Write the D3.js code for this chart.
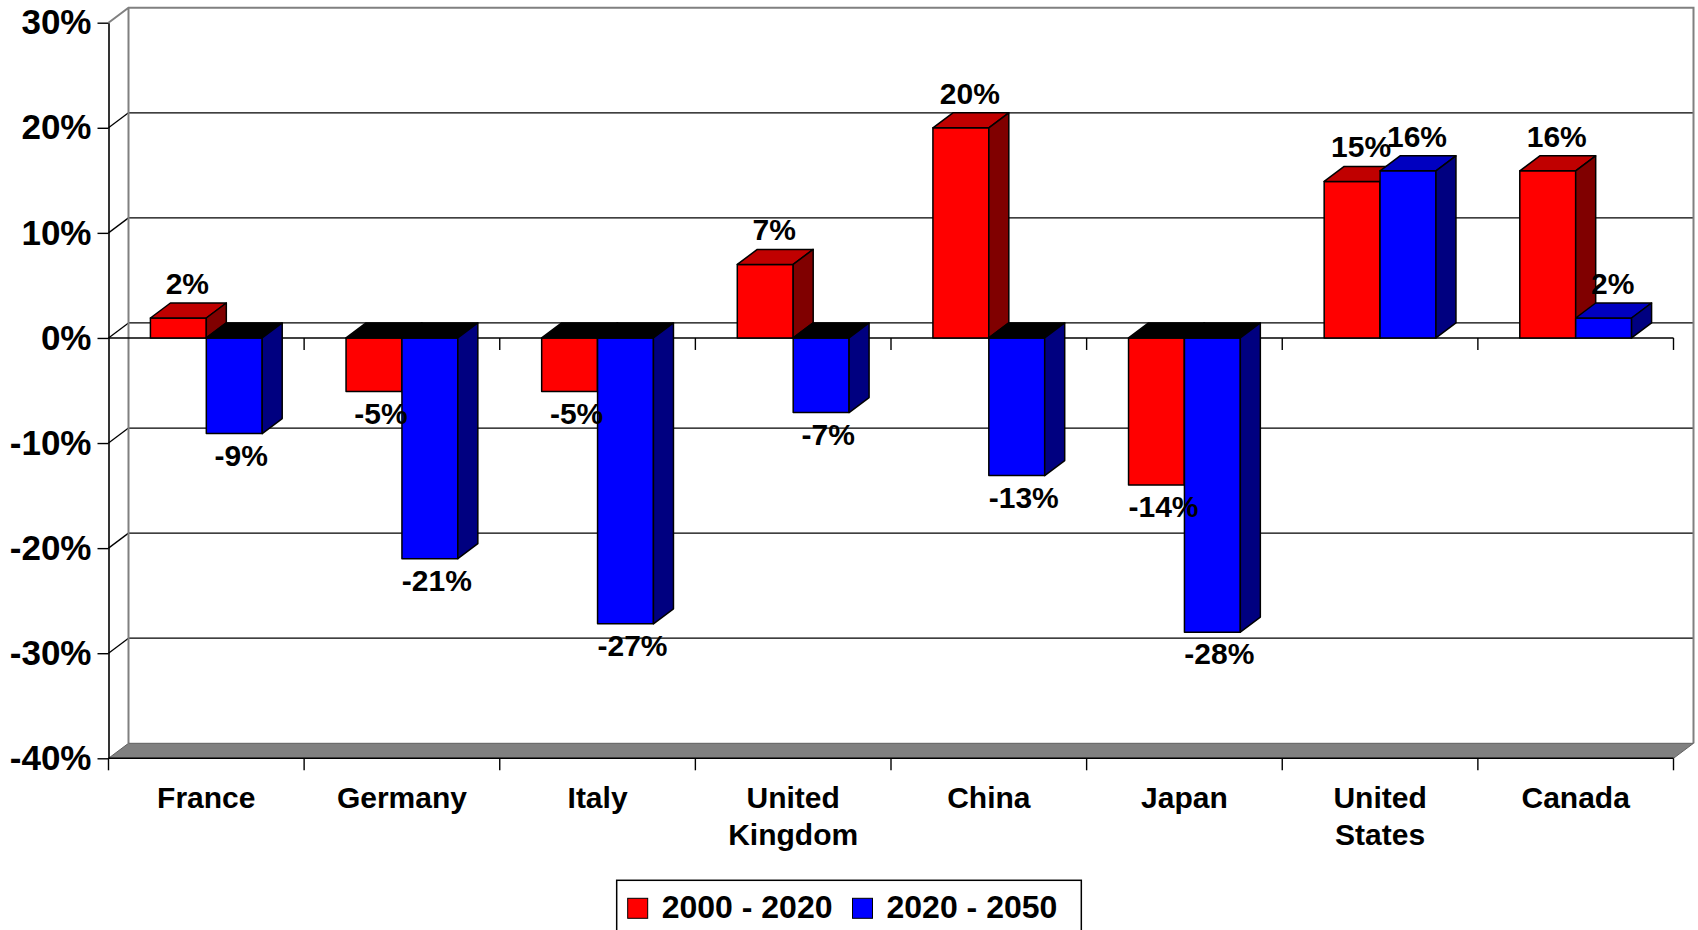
<!DOCTYPE html>
<html>
<head>
<meta charset="utf-8">
<script src="https://cdn.jsdelivr.net/npm/d3@7"></script>
<style>
  html, body { margin: 0; padding: 0; background: #fff; }
  svg { display: block; }
  text { font-family: "Liberation Sans", Arial, sans-serif; font-weight: bold; fill: #000; }
</style>
</head>
<body>
<svg id="chart" width="1698" height="930"></svg>
<script>
(function (d3) {
    'use strict';

    // data (percent change)
    var categories = ['France', 'Germany', 'Italy', 'United Kingdom', 'China', 'Japan', 'United States', 'Canada'];
    var seriesNames = ['2000 - 2020', '2020 - 2050'];
    var change2000to2020 = [1.9, -5.1, -5.1, 7.0, 20.0, -14.0, 14.9, 15.9];
    var change2020to2050 = [-9.1, -21.0, -27.2, -7.1, -13.1, -28.0, 15.9, 1.9];
    var yTicks = [-40, -30, -20, -10, 0, 10, 20, 30];

    var frontColors = ['#ff0000', '#0000ff'],
        topColors = ['#c00000', '#0000c0'],
        sideColors = ['#800000', '#000080'];

    var width = 1698,
        left = 108.5, right = 1673.5, top = 22.7, bottom = 758.3,
        dx = 20, dy = -15;

    var svg = d3.select('#chart');

    var y = d3.scaleLinear().domain([-40, 30]).range([bottom, top]);
    var x0 = d3.scaleBand().domain(categories).range([left, right]);
    var x1 = d3.scaleBand().domain(seriesNames).range([0, x0.bandwidth()]).paddingOuter(0.75);

    var inner = yTicks.filter(function (t) { return t > -40 && t < 30; });

    // back wall gridlines
    svg.append('g').selectAll('line')
        .data(inner)
        .enter()
        .append('line')
        .attr('x1', left + dx).attr('x2', right + dx)
        .attr('y1', function (d) { return y(d) + dy; })
        .attr('y2', function (d) { return y(d) + dy; })
        .attr('stroke', '#000').attr('stroke-width', 1.3);

    // side wall diagonals
    svg.append('g').selectAll('line')
        .data(inner)
        .enter()
        .append('line')
        .attr('x1', left).attr('x2', left + dx)
        .attr('y1', function (d) { return y(d); })
        .attr('y2', function (d) { return y(d) + dy; })
        .attr('stroke', '#000').attr('stroke-width', 1.3);

    // wall outline
    svg.append('path')
        .attr('d', 'M' + left + ',' + y(30) +
            'L' + (left + dx) + ',' + (y(30) + dy) +
            'L' + (right + dx) + ',' + (y(30) + dy) +
            'L' + (right + dx) + ',' + (y(-40) + dy) +
            'M' + (left + dx) + ',' + (y(30) + dy) +
            'L' + (left + dx) + ',' + (y(-40) + dy))
        .attr('fill', 'none').attr('stroke', '#808080').attr('stroke-width', 2);

    // floor
    svg.append('path')
        .attr('d', 'M' + left + ',' + y(-40) +
            'L' + (left + dx) + ',' + (y(-40) + dy) +
            'L' + (right + dx) + ',' + (y(-40) + dy) +
            'L' + right + ',' + y(-40) + 'Z')
        .attr('fill', '#808080').attr('stroke', '#606060').attr('stroke-width', 1);

    var bounds = categories.map(function (c) { return x0(c); }).concat([right]);

    // category axis on the floor
    svg.append('line')
        .attr('x1', left).attr('x2', right)
        .attr('y1', y(-40)).attr('y2', y(-40))
        .attr('stroke', '#000').attr('stroke-width', 1.6);
    svg.append('g').selectAll('line')
        .data(bounds)
        .enter()
        .append('line')
        .attr('x1', function (d) { return d; }).attr('x2', function (d) { return d; })
        .attr('y1', y(-40)).attr('y2', y(-40) + 12)
        .attr('stroke', '#000').attr('stroke-width', 1.4);

    // zero line with its ticks
    svg.append('line')
        .attr('x1', left).attr('x2', right)
        .attr('y1', y(0)).attr('y2', y(0))
        .attr('stroke', '#000').attr('stroke-width', 1.6);
    svg.append('g').selectAll('line')
        .data(bounds.slice(1))
        .enter()
        .append('line')
        .attr('x1', function (d) { return d; }).attr('x2', function (d) { return d; })
        .attr('y1', y(0)).attr('y2', y(0) + 12)
        .attr('stroke', '#000').attr('stroke-width', 1.4);

    // value axis
    var yAxis = svg.append('g')
        .attr('transform', 'translate(' + left + ',0)')
        .call(d3.axisLeft(y)
            .tickValues(yTicks)
            .tickSize(11)
            .tickSizeOuter(0)
            .tickPadding(6)
            .tickFormat(function (d) { return d + '%'; }));
    yAxis.select('.domain').attr('stroke', '#000').attr('stroke-width', 1.6);
    yAxis.selectAll('.tick line').attr('stroke', '#000').attr('stroke-width', 1.4);
    yAxis.selectAll('.tick text')
        .attr('fill', '#000')
        .style('font-size', '35px')
        .style('font-family', '"Liberation Sans", Arial, sans-serif')
        .style('font-weight', 'bold');

    // bars
    var bars = [];
    categories.forEach(function (c, i) {
        [change2000to2020, change2020to2050].forEach(function (vals, s) {
            bars.push({ cat: c, series: seriesNames[s], s: s, value: vals[i] });
        });
    });

    function poly(pts) {
        return 'M' + pts.map(function (p) { return p[0] + ',' + p[1]; }).join('L') + 'Z';
    }

    svg.append('g').selectAll('g')
        .data(bars)
        .enter()
        .append('g')
        .each(function (d) {
            var g = d3.select(this),
                xl = x0(d.cat) + x1(d.series),
                xr = xl + x1.bandwidth(),
                yv = y(d.value),
                yz = y(0),
                yt = Math.min(yv, yz),
                yb = Math.max(yv, yz);

            g.append('rect')
                .attr('x', xl).attr('y', yt)
                .attr('width', xr - xl).attr('height', yb - yt)
                .attr('fill', frontColors[d.s]);
            g.append('path')
                .attr('d', poly([[xl, yt], [xl + dx, yt + dy], [xr + dx, yt + dy], [xr, yt]]))
                .attr('fill', d.value >= 0 ? topColors[d.s] : '#000');
            g.append('path')
                .attr('d', poly([[xr, yt], [xr + dx, yt + dy], [xr + dx, yb + dy], [xr, yb]]))
                .attr('fill', sideColors[d.s]);
            g.selectAll('rect, path')
                .attr('stroke', '#000').attr('stroke-width', 1.5)
                .attr('stroke-linejoin', 'round');
        });

    // value labels
    svg.append('g').selectAll('text')
        .data(bars)
        .enter()
        .append('text')
        .attr('text-anchor', 'middle')
        .style('font-size', '30px')
        .attr('x', function (d) {
            return x0(d.cat) + x1(d.series) + x1.bandwidth() / 2 + (d.value >= 0 ? 9 : 7);
        })
        .attr('y', function (d) {
            return d.value >= 0 ? y(d.value) - 24 : y(d.value) + 32;
        })
        .text(function (d) { return Math.round(d.value) + '%'; });

    // category labels, wrapped when too wide
    var catText = svg.append('g').selectAll('text')
        .data(categories)
        .enter()
        .append('text')
        .attr('text-anchor', 'middle')
        .style('font-size', '30px')
        .attr('x', function (d) { return x0(d) + x0.bandwidth() / 2; })
        .attr('y', bottom + 50)
        .text(function (d) { return d; });

    catText.each(function (d) {
        var t = d3.select(this);
        if (this.getComputedTextLength() > x0.bandwidth() * 0.9 && d.indexOf(' ') > 0) {
            var words = d.split(' '),
                cx = t.attr('x');
            t.text(null);
            words.forEach(function (w, k) {
                t.append('tspan')
                    .attr('x', cx)
                    .attr('dy', k === 0 ? 0 : 37)
                    .text(w);
            });
        }
    });

    // legend
    var legend = svg.append('g');
    var box = legend.append('rect')
        .attr('fill', '#fff').attr('stroke', '#000').attr('stroke-width', 1.5);
    var lx = 0;
    seriesNames.forEach(function (name, s) {
        legend.append('rect')
            .attr('x', lx).attr('y', -20)
            .attr('width', 20).attr('height', 20)
            .attr('fill', frontColors[s])
            .attr('stroke', '#000').attr('stroke-width', 1);
        var t = legend.append('text')
            .attr('x', lx + 34).attr('y', 0)
            .style('font-size', '32px')
            .text(name);
        lx += 34 + t.node().getComputedTextLength() + 20;
    });
    var legendW = lx - 20;
    box.attr('x', -11).attr('y', -38)
        .attr('width', legendW + 35).attr('height', 80);
    legend.attr('transform', 'translate(' + (width / 2 - (legendW + 13) / 2) + ',918.3)');
})(d3);
</script>
</body>
</html>
